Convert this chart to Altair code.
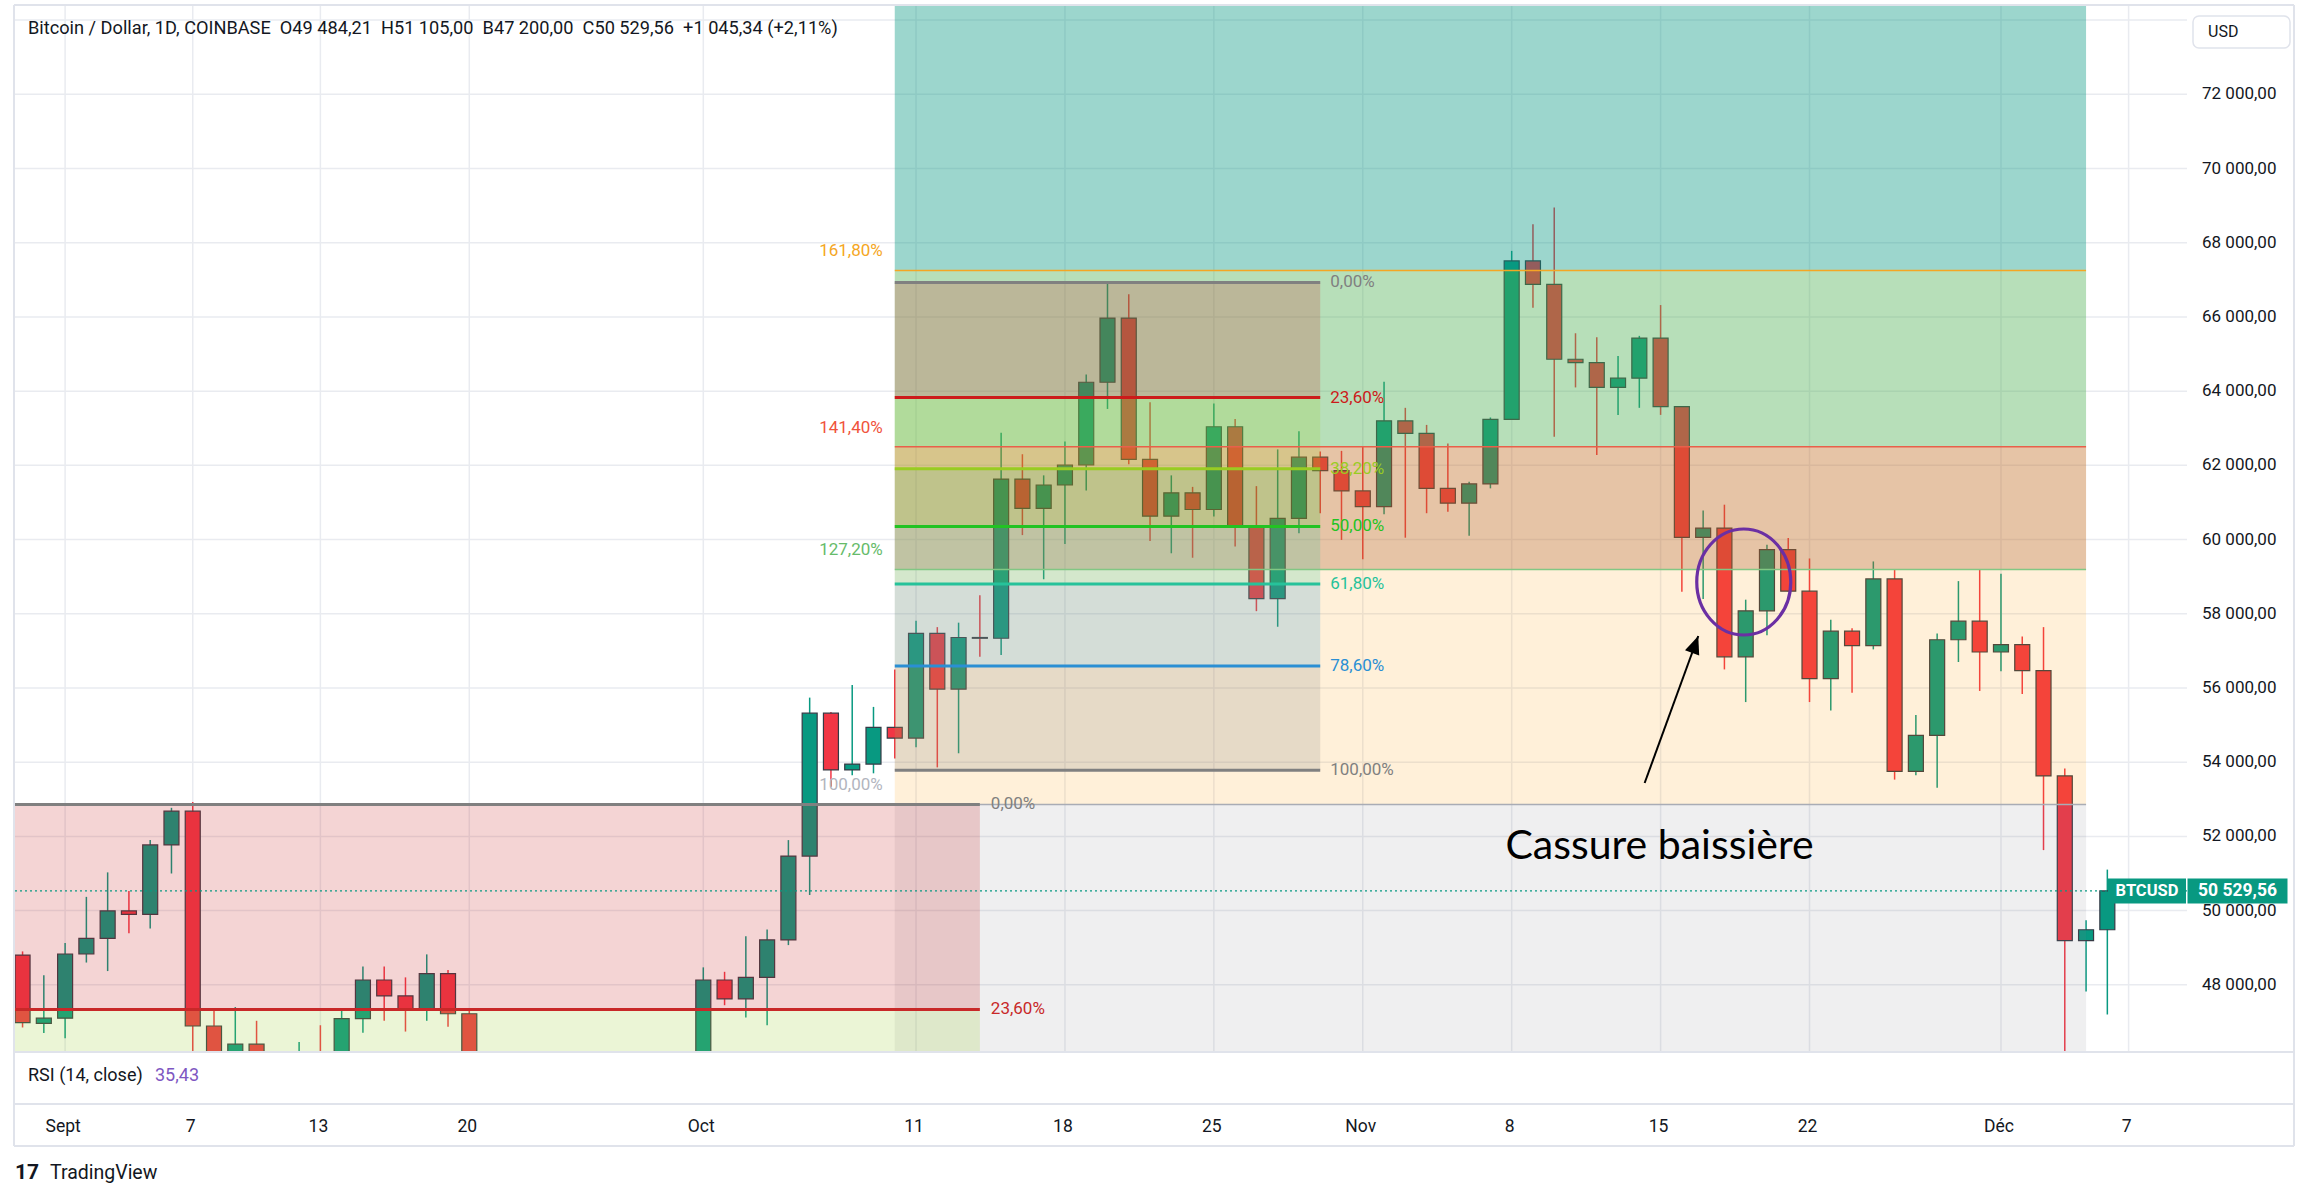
import altair as alt
import pandas as pd

# ---------------- data ----------------
dates = ["2021-08-30", "2021-08-31", "2021-09-01", "2021-09-02", "2021-09-03", "2021-09-04",
         "2021-09-05", "2021-09-06", "2021-09-07", "2021-09-08", "2021-09-09", "2021-09-10",
         "2021-09-12", "2021-09-13", "2021-09-14", "2021-09-15", "2021-09-16", "2021-09-17",
         "2021-09-18", "2021-09-19", "2021-09-20",
         "2021-10-01", "2021-10-02", "2021-10-03", "2021-10-04", "2021-10-05", "2021-10-06",
         "2021-10-07", "2021-10-08", "2021-10-09", "2021-10-10", "2021-10-11", "2021-10-12",
         "2021-10-13", "2021-10-14", "2021-10-15", "2021-10-16", "2021-10-17", "2021-10-18",
         "2021-10-19", "2021-10-20", "2021-10-21", "2021-10-22", "2021-10-23", "2021-10-24",
         "2021-10-25", "2021-10-26", "2021-10-27", "2021-10-28", "2021-10-29", "2021-10-30",
         "2021-10-31", "2021-11-01", "2021-11-02", "2021-11-03", "2021-11-04", "2021-11-05",
         "2021-11-06", "2021-11-07", "2021-11-08", "2021-11-09", "2021-11-10", "2021-11-11",
         "2021-11-12", "2021-11-13", "2021-11-14", "2021-11-15", "2021-11-16", "2021-11-17",
         "2021-11-18", "2021-11-19", "2021-11-20", "2021-11-21", "2021-11-22", "2021-11-23",
         "2021-11-24", "2021-11-25", "2021-11-26", "2021-11-27", "2021-11-28", "2021-11-29",
         "2021-11-30", "2021-12-01", "2021-12-02", "2021-12-03", "2021-12-04", "2021-12-05",
         "2021-12-06"]
opens = [48800, 46960, 47100, 48830, 49250, 49990, 49900, 51770, 52680, 46890, 46050, 46400,
         45150, 46050, 44950, 47090, 48130, 47700, 47320, 48300, 47220,
         43800, 48130, 47620, 48200, 49210, 51470, 55320, 53790, 53950, 54940, 54650, 57470,
         55970, 57360, 57340, 61630, 60840, 61470, 62010, 64240, 65970, 62160, 60630, 61260,
         60810, 63040, 60370, 58410, 60570, 62220,
         61860, 61310, 60890, 63200, 62860, 61380, 60980, 61500, 63240, 67510, 66880, 64860,
         64770, 64100, 64350, 65430, 63580, 60060, 60310, 56840, 58080, 59730, 58610, 56250,
         57530, 57140, 58940, 53750, 54720, 57300, 57800, 56970, 57170, 56470, 53630, 49190,
         49484.21]
highs = [48900, 48260, 49130, 50370, 51030, 50530, 51900, 52770, 52930, 47300, 47400, 47030,
         46460, 46910, 47300, 48490, 48490, 48200, 48820, 48400, 47300,
         48470, 48350, 49310, 49490, 51900, 55740, 55350, 56080, 55490, 56500, 57810, 57640,
         57760, 58500, 62880, 62300, 61730, 62640, 64450, 66920, 66610, 63700, 61730, 61420,
         63670, 63250, 61440, 62430, 62920, 62370,
         62390, 62500, 64250, 63550, 63090, 62590, 61560, 63290, 67780, 68500, 68950, 65560,
         65450, 64950, 65490, 66320, 63600, 60780, 60940, 58380, 59860, 60040, 59490, 57840,
         57610, 59410, 59180, 55270, 57470, 58880, 59180, 59080, 57390, 57640, 53830, 49740,
         51105.00]
lows = [46850, 46700, 46560, 48600, 48370, 49390, 49520, 51000, 43000, 44500, 45500, 44200,
        44800, 43400, 44750, 46710, 47030, 46740, 47030, 46870, 42500,
        43300, 47450, 47120, 46910, 49070, 50420, 53340, 53650, 53700, 54100, 54400, 53860,
        54240, 56840, 56890, 60120, 58930, 59880, 61320, 63520, 62030, 59960, 59630, 59510,
        60620, 59810, 58070, 57650, 60170, 60710,
        59990, 59470, 60680, 60050, 60710, 60750, 60100, 61380, 63240, 66250, 62770, 64100,
        62280, 63360, 63550, 63360, 58590, 58400, 56500, 55620, 57420, 58600, 55620, 55390,
        55870, 57040, 53530, 53650, 53310, 56700, 55920, 56450, 55840, 51630, 42000, 47820,
        47200.00]
closes = [46980, 47100, 48830, 49250, 49990, 49900, 51770, 52680, 46890, 46050, 46400, 44850,
          46050, 44950, 47090, 48130, 47700, 47320, 48300, 47220, 42900,
          48130, 47620, 48200, 49210, 51470, 55320, 53790, 53950, 54940, 54650, 57470, 55970,
          57360, 57340, 61630, 60840, 61470, 62010, 64240, 65970, 62160, 60630, 61260, 60810,
          63040, 60370, 58410, 60570, 62220, 61860,
          61310, 60890, 63200, 62860, 61380, 60980, 61500, 63240, 67510, 66880, 64860, 64770,
          64100, 64350, 65430, 63580, 60060, 60310, 56840, 58080, 59730, 58610, 56250, 57530,
          57140, 58940, 53750, 54720, 57300, 57800, 56970, 57170, 56470, 53630, 49190, 49484.21,
          50529.56]

last_price = 50529.56
symbol = "BTCUSD"
header_text = ("Bitcoin / Dollar, 1D, COINBASE\u00a0\u00a0O49 484,21\u00a0\u00a0H51 105,00"
               "\u00a0\u00a0B47 200,00\u00a0\u00a0C50 529,56\u00a0\u00a0+1 045,34 (+2,11%)")
rsi_label = "RSI (14, close)"
rsi_value = "35,43"
currency = "USD"

tick_dates = ["2021-09-01", "2021-09-07", "2021-09-13", "2021-09-20", "2021-10-01", "2021-10-11",
              "2021-10-18", "2021-10-25", "2021-11-01", "2021-11-08", "2021-11-15", "2021-11-22",
              "2021-12-01", "2021-12-07"]
tick_labels = ["Sept", "7", "13", "20", "Oct", "11", "18", "25", "Nov", "8", "15", "22", "Déc", "7"]
grid_prices = list(range(48000, 74001, 2000))
label_prices = list(range(48000, 72001, 2000))

# Fibonacci extension (large drawing)
ext_dates = ["2021-10-10", "2021-12-05"]
ext_anchor = [29570, 52860]            # 0 % and 100 %
ext_levels = [0.0, 1.0, 1.272, 1.414, 1.618, 2.0]
ext_labelled = [1.0, 1.272, 1.414, 1.618]

# Fibonacci retracement (October range)
ret_dates = ["2021-10-10", "2021-10-30"]
ret_anchor = [66930, 53780]            # 0 % and 100 %
ret_levels = [0.0, 0.236, 0.382, 0.5, 0.618, 0.786, 1.0]

# Fibonacci retracement (lower, September)
low_dates = ["2021-07-20", "2021-10-14"]
low_anchor = [52860, 29457]            # 0 % and 100 %
low_levels = [0.0, 0.236, 0.382]
low_labelled = [0.0, 0.236]

# annotations
note_text = "Cassure baissière"
note_at = ("2021-11-14T22:48:00", 51390)
arrow_from = ("2021-11-14T06:00:00", 53439)
arrow_to = ("2021-11-16T18:29:00", 57400)
ellipse_at = ("2021-11-18T21:50:00", 58856)

# ---------------- styles ----------------
UP, DOWN = "#089981", "#f23645"
ext_fill = ["#787b86", "#ff9800", "#c06b20", "#4caf50", "#089981"]
ext_fill_op = [0.12, 0.15, 0.40, 0.40, 0.40]
ext_line = {1.0: "#a9acb5", 1.272: "#81c784", 1.414: "#e8604a", 1.618: "#f5a623"}
ext_text = {1.0: "#b2b5be", 1.272: "#66bb6a", 1.414: "#f0533c", 1.618: "#f5a623"}
ret_color = ["#808080", "#cc1a1a", "#99cc22", "#22c322", "#26c29a", "#2a8fd4", "#808080"]
low_color = ["#808080", "#c82828", "#99cc33"]
FONT = "Roboto"
TXT = "#131722"
BORDER = "#e0e3eb"
GRID = "#e9ebf0"


def iso(d):
    return d if "T" in d else d + "T00:00:00"


def pct(r):
    return f"{r * 100:.2f}".replace(".", ",") + "%"


def fr(num):
    return f"{num:,.2f}".replace(",", " ").replace(".", ",")


# ---------------- tables ----------------
candles = pd.DataFrame({"date": [iso(d) for d in dates], "open": opens, "high": highs,
                        "low": lows, "close": closes})
candles["col"] = [UP if c >= o else DOWN for o, c in zip(opens, closes)]

ext_p = {r: ext_anchor[0] + r * (ext_anchor[1] - ext_anchor[0]) for r in ext_levels}
ret_p = {r: ret_anchor[0] + r * (ret_anchor[1] - ret_anchor[0]) for r in ret_levels}
low_p = {r: low_anchor[0] + r * (low_anchor[1] - low_anchor[0]) for r in low_levels}

fills = []
for i in range(len(ext_levels) - 1):
    fills.append(dict(x=iso(ext_dates[0]), x2=iso(ext_dates[1]), y=ext_p[ext_levels[i]],
                      y2=ext_p[ext_levels[i + 1]], c=ext_fill[i], o=ext_fill_op[i]))
for i in range(len(low_levels) - 1):
    fills.append(dict(x=iso(low_dates[0]), x2=iso(low_dates[1]), y=low_p[low_levels[i]],
                      y2=low_p[low_levels[i + 1]], c=low_color[i + 1], o=0.2))
for i in range(len(ret_levels) - 1):
    fills.append(dict(x=iso(ret_dates[0]), x2=iso(ret_dates[1]), y=ret_p[ret_levels[i]],
                      y2=ret_p[ret_levels[i + 1]], c=ret_color[i + 1], o=0.2))
fills = pd.DataFrame(fills)

lines = []
for r in ext_labelled:
    lines.append(dict(x=iso(ext_dates[0]), x2=iso(ext_dates[1]), y=ext_p[r], c=ext_line[r], w=1.5))
for i, r in enumerate(low_labelled):
    lines.append(dict(x=iso(low_dates[0]), x2=iso(low_dates[1]), y=low_p[r], c=low_color[i], w=3))
for i, r in enumerate(ret_levels):
    lines.append(dict(x=iso(ret_dates[0]), x2=iso(ret_dates[1]), y=ret_p[r], c=ret_color[i], w=3))
lines = pd.DataFrame(lines)

ext_lab = pd.DataFrame([dict(x=iso(ext_dates[0]), y=ext_p[r], t=pct(r), c=ext_text[r]) for r in ext_labelled])
ret_lab = pd.DataFrame([dict(x=iso(ret_dates[1]), y=ret_p[r], t=pct(r), c=ret_color[i])
                        for i, r in enumerate(ret_levels)])
low_lab = pd.DataFrame([dict(x=iso(low_dates[1]), y=low_p[r], t=pct(r), c=low_color[i])
                        for i, r in enumerate(low_labelled)])

xticks = pd.DataFrame({"x": [iso(d) for d in tick_dates], "t": tick_labels})
ygrid = pd.DataFrame({"y": grid_prices})
ylabels = pd.DataFrame({"y": label_prices, "t": [fr(p) for p in label_prices]})

# ---------------- scales ----------------
x_scale = alt.Scale(domain=[alt.DateTime(year=2021, month=8, date=29, hours=21, minutes=7),
                            alt.DateTime(year=2021, month=12, date=9, hours=12, minutes=14)],
                    nice=False)
y_scale = alt.Scale(domain=[46189, 74380], nice=False, zero=False)


def X(f):
    return alt.X(f, type="temporal", scale=x_scale, axis=None)


def Y(f):
    return alt.Y(f, type="quantitative", scale=y_scale, axis=None)


# ---------------- layers ----------------
vgrid = alt.Chart(xticks).mark_rule(color=GRID, strokeWidth=1.5).encode(
    x=X("x"), y=alt.value(0), y2=alt.value(1046))
hgrid = alt.Chart(ygrid).mark_rule(color=GRID, strokeWidth=1.5, clip=True).encode(
    y=Y("y"), x=alt.value(0), x2=alt.value(2172))

wicks = alt.Chart(candles).mark_rule(strokeWidth=1.5, clip=True).encode(
    x=X("date"), y=Y("low"), y2="high", color=alt.Color("col:N", scale=None))
bodies = alt.Chart(candles).mark_bar(size=15, stroke="#363a45", strokeWidth=1.2, clip=True).encode(
    x=X("date"), y=Y("open"), y2="close", fill=alt.Fill("col:N", scale=None))

fill_layer = alt.Chart(fills).mark_rect(clip=True).encode(
    x=X("x"), x2="x2", y=Y("y"), y2="y2",
    fill=alt.Fill("c:N", scale=None), fillOpacity=alt.FillOpacity("o:Q", scale=None))
line_layer = alt.Chart(lines).mark_rule(clip=True).encode(
    x=X("x"), x2="x2", y=Y("y"),
    color=alt.Color("c:N", scale=None), strokeWidth=alt.StrokeWidth("w:Q", scale=None))

ext_text_layer = alt.Chart(ext_lab).mark_text(align="right", baseline="middle", dx=-12, dy=-19,
                                              font=FONT, fontSize=17).encode(
    x=X("x"), y=Y("y"), text="t:N", color=alt.Color("c:N", scale=None))
ret_text_layer = alt.Chart(ret_lab).mark_text(align="left", baseline="middle", dx=10,
                                              font=FONT, fontSize=17).encode(
    x=X("x"), y=Y("y"), text="t:N", color=alt.Color("c:N", scale=None))
low_text_layer = alt.Chart(low_lab).mark_text(align="left", baseline="middle", dx=11,
                                              font=FONT, fontSize=17).encode(
    x=X("x"), y=Y("y"), text="t:N", color=alt.Color("c:N", scale=None))

x_labels = alt.Chart(xticks).mark_text(font=FONT, fontSize=17.5, color=TXT, align="center",
                                       baseline="middle", dx=-2).encode(
    x=X("x"), y=alt.value(1121), text="t:N")
y_labels = alt.Chart(ylabels).mark_text(font=FONT, fontSize=17, color=TXT, align="left",
                                        baseline="middle").encode(
    x=alt.value(2187), y=Y("y"), text="t:N")

price_df = pd.DataFrame({"p": [last_price], "sym": [symbol], "txt": [fr(last_price)]})
price_line = alt.Chart(price_df).mark_rule(strokeDash=[2, 3], strokeWidth=1.3, color=UP).encode(
    y=Y("p"))

# annotations
note_df = pd.DataFrame({"x": [note_at[0]], "y": [note_at[1]], "t": [note_text]})
note = alt.Chart(note_df).mark_text(font="Lato", fontSize=41, align="center",
                                    baseline="alphabetic", color="black").encode(
    x=X("x"), y=Y("y"), text="t:N")
arrow_df = pd.DataFrame({"x": [arrow_from[0]], "y": [arrow_from[1]],
                         "x2": [arrow_to[0]], "y2": [arrow_to[1]]})
arrow_line = alt.Chart(arrow_df).mark_rule(strokeWidth=2, color="black").encode(
    x=X("x"), y=Y("y"), x2="x2", y2="y2")
head_df = pd.DataFrame({"x": [arrow_to[0]], "y": [arrow_to[1]]})
arrow_head = alt.Chart(head_df).mark_point(shape="M 0 0 L -0.42 1 L 0.42 1 Z", size=1296, angle=20,
                                           filled=True, opacity=1, color="black").encode(
    x=X("x"), y=Y("y"))
ell_path = ("M 0.887 0 C 0.887 0.5523 0.4899 1 0 1 C -0.4899 1 -0.887 0.5523 -0.887 0 "
            "C -0.887 -0.5523 -0.4899 -1 0 -1 C 0.4899 -1 0.887 -0.5523 0.887 0 Z")
ell_df = pd.DataFrame({"x": [ellipse_at[0]], "y": [ellipse_at[1]]})
ellipse = alt.Chart(ell_df).mark_point(shape=ell_path, size=11236, filled=False, opacity=1,
                                       strokeWidth=3.2, color="#6b2fa3").encode(
    x=X("x"), y=Y("y"))

# price tags
tag1 = alt.Chart(price_df).mark_point(shape="M -1 -0.32 L 1 -0.32 L 1 0.32 L -1 0.32 Z", size=6084,
                                      filled=True, opacity=1, color=UP).encode(
    x=alt.value(2132), y=Y("p"))
tag1_t = alt.Chart(price_df).mark_text(font=FONT, fontSize=16.5, fontWeight="bold", color="white",
                                       align="center", baseline="middle").encode(
    x=alt.value(2132), y=Y("p"), text="sym:N")
tag2 = alt.Chart(price_df).mark_point(shape="M -1 -0.25 L 1 -0.25 L 1 0.25 L -1 0.25 Z", size=10000,
                                      filled=True, opacity=1, color=UP).encode(
    x=alt.value(2222.5), y=Y("p"))
tag2_t = alt.Chart(price_df).mark_text(font=FONT, fontSize=17.5, fontWeight="bold", color="white",
                                       align="center", baseline="middle").encode(
    x=alt.value(2222.5), y=Y("p"), text="txt:N")


def label(text, x, y, size=17, color=TXT, weight="normal", font=FONT):
    return alt.Chart(pd.DataFrame({"t": [text]})).mark_text(
        font=font, fontSize=size, color=color, fontWeight=weight, align="left",
        baseline="middle").encode(x=alt.value(x), y=alt.value(y), text="t:N")


def rule(x, x2, y, y2, color=BORDER, w=2):
    return alt.Chart(pd.DataFrame({"k": [0]})).mark_rule(color=color, strokeWidth=w).encode(
        x=alt.value(x), x2=alt.value(x2), y=alt.value(y), y2=alt.value(y2))


usd_box = alt.Chart(pd.DataFrame({"k": [0]})).mark_rect(
    cornerRadius=6, fill="white", stroke=BORDER, strokeWidth=1.5).encode(
    x=alt.value(2178), x2=alt.value(2275), y=alt.value(10), y2=alt.value(42))

decor = [
    rule(-1, 2279, -1, -1), rule(-1, -1, -1, 1140), rule(2279, 2279, -1, 1140),
    rule(-1, 2279, 1140, 1140), rule(-1, 2279, 1046, 1046), rule(-1, 2279, 1098, 1098),
    label(header_text, 13, 23, size=18.2),
    label(rsi_label, 13, 1070, size=18),
    label(rsi_value, 140, 1070, size=18, color="#7e57c2"),
    label("17", 0, 1167, size=21, weight="bold"),
    label("TradingView", 35, 1167, size=19.5),
    usd_box,
    label(currency, 2193, 26, size=16),
]

chart = alt.layer(
    vgrid, hgrid, wicks, bodies, fill_layer, line_layer, ext_text_layer, ret_text_layer,
    low_text_layer, x_labels, y_labels, price_line, arrow_line, arrow_head, ellipse, note,
    tag1, tag1_t, tag2, tag2_t, *decor
).properties(
    width=2172, height=1046,
    autosize=alt.AutoSizeParams(type="none"),
    padding={"left": 15, "top": 6, "right": 123, "bottom": 148},
    background="white",
).configure_view(stroke=None)

chart.save("out.html", embed_options={"renderer": "svg", "actions": False})
